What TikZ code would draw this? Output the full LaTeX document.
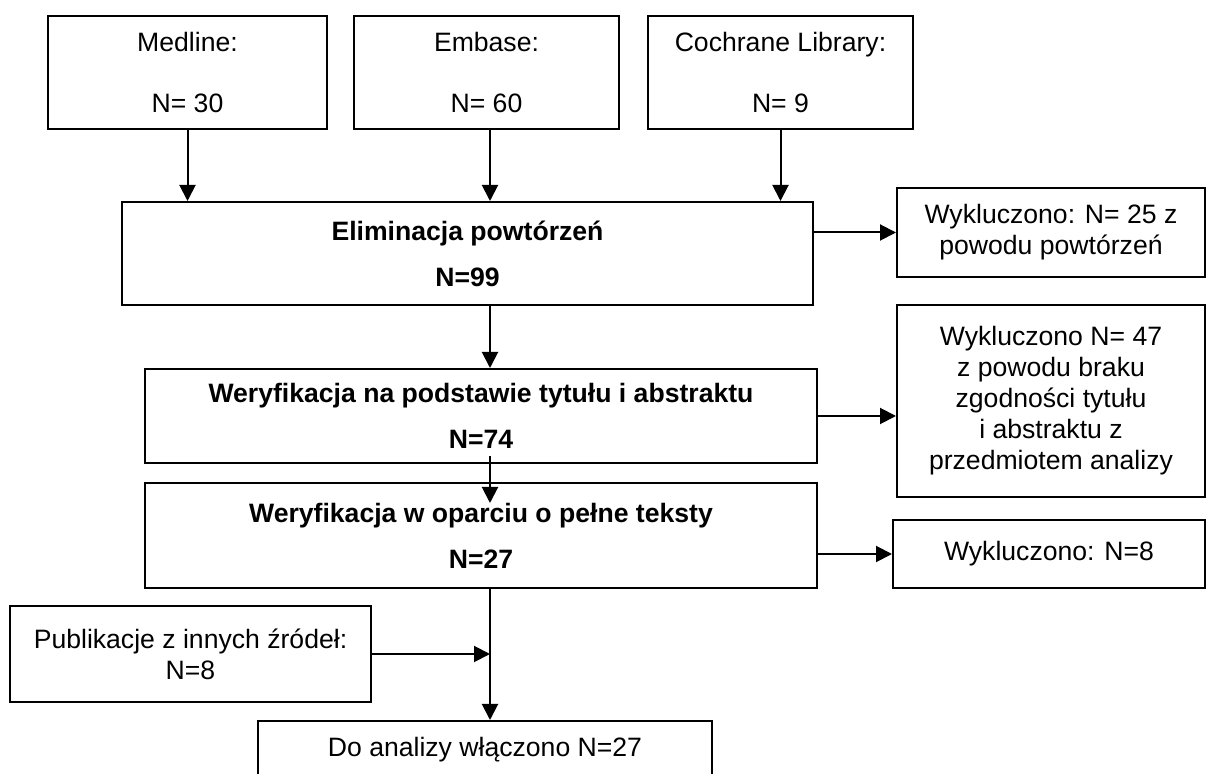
\documentclass[tikz,border=0pt]{standalone}
\usepackage{fontspec}
\setmainfont{Liberation Sans}
\usetikzlibrary{arrows.meta,calc}
\begin{document}
\begin{tikzpicture}[x=0.5pt, y=-0.5pt, >={Triangle[length=8pt,width=8pt]}, line width=1pt,
            box/.style={draw, align=center, inner sep=0pt, font=\fontsize{13.3}{15.5}\selectfont},
            boldbox/.style={box, font=\fontsize{13.3}{15.5}\selectfont\bfseries}]
            \useasboundingbox (0,0) rectangle (1206,774);
            \clip (0,0) rectangle (1206,774);
            \coordinate (axis) at (490,0);
            \node[box, minimum width=139.5pt, minimum height=56.5pt] (med) at (187.5,72.5) {Medline:\\[15.5pt]N= 30};
            \node[box, minimum width=132.5pt, minimum height=56.5pt] (emb) at (486.5,72.5) {Embase:\\[15.5pt]N= 60};
            \node[box, minimum width=132.5pt, minimum height=56.5pt] (coch) at (780.5,72.5) {Cochrane Library:\\[15.5pt]N= 9};
            \node[boldbox, minimum width=345.5pt, minimum height=51.5pt] (elim) at (467.5,253.5) {Eliminacja powtórzeń\\[7.5pt]N=99};
            \node[box, minimum width=154pt, minimum height=44.5pt] (wyk25) at (1051,232.5) {Wykluczono: N= 25 z\\powodu powtórzeń};
            \node[box, minimum width=154pt, minimum height=96pt] (wyk47) at (1051,401) {Wykluczono N= 47\\z powodu braku\\zgodności tytułu\\i abstraktu z\\przedmiotem analizy};
            \node[boldbox, minimum width=336pt, minimum height=47pt] (ver1) at (481,416) {Weryfikacja na podstawie tytułu i abstraktu\\[7.5pt]N=74};
            \node[boldbox, minimum width=336pt, minimum height=52.5pt] (ver2) at (481,535.5) {Weryfikacja w oparciu o pełne teksty\\[7.5pt]N=27};
            \node[box, minimum width=156pt, minimum height=34pt] (wyk8) at (1049,554) {Wykluczono: N=8};
            \node[box, minimum width=180.5pt, minimum height=48pt] (pub) at (190.5,654) {Publikacje z innych źródeł:\\N=8};
            \node[box, minimum width=227pt, minimum height=29pt] (incl) at (485,750) {Do analizy włączono N=27};
            \draw[->] (med.south) -- (med.south |- elim.north);
            \draw[->] (emb.south -| axis) -- (elim.north -| axis);
            \draw[->] (coch.south) -- (coch.south |- elim.north);
            \draw[->] (elim.east |- wyk25.west) -- (wyk25.west);
            \draw[->] (elim.south -| axis) -- (ver1.north -| axis);
            \draw[->] (ver1.east) -- (ver1.east -| wyk47.west);
            \draw[->] ($(ver1.south -| axis)+(0,-8)$) -- ($(ver2.north -| axis)+(0,21)$);
            \draw[->] (ver2.east |- wyk8.west) -- (wyk8.west);
            \draw[->] (ver2.south -| axis) -- (incl.north -| axis);
            \draw[->] (pub.east) -- (pub.east -| axis);
    \end{tikzpicture}
\end{document}
